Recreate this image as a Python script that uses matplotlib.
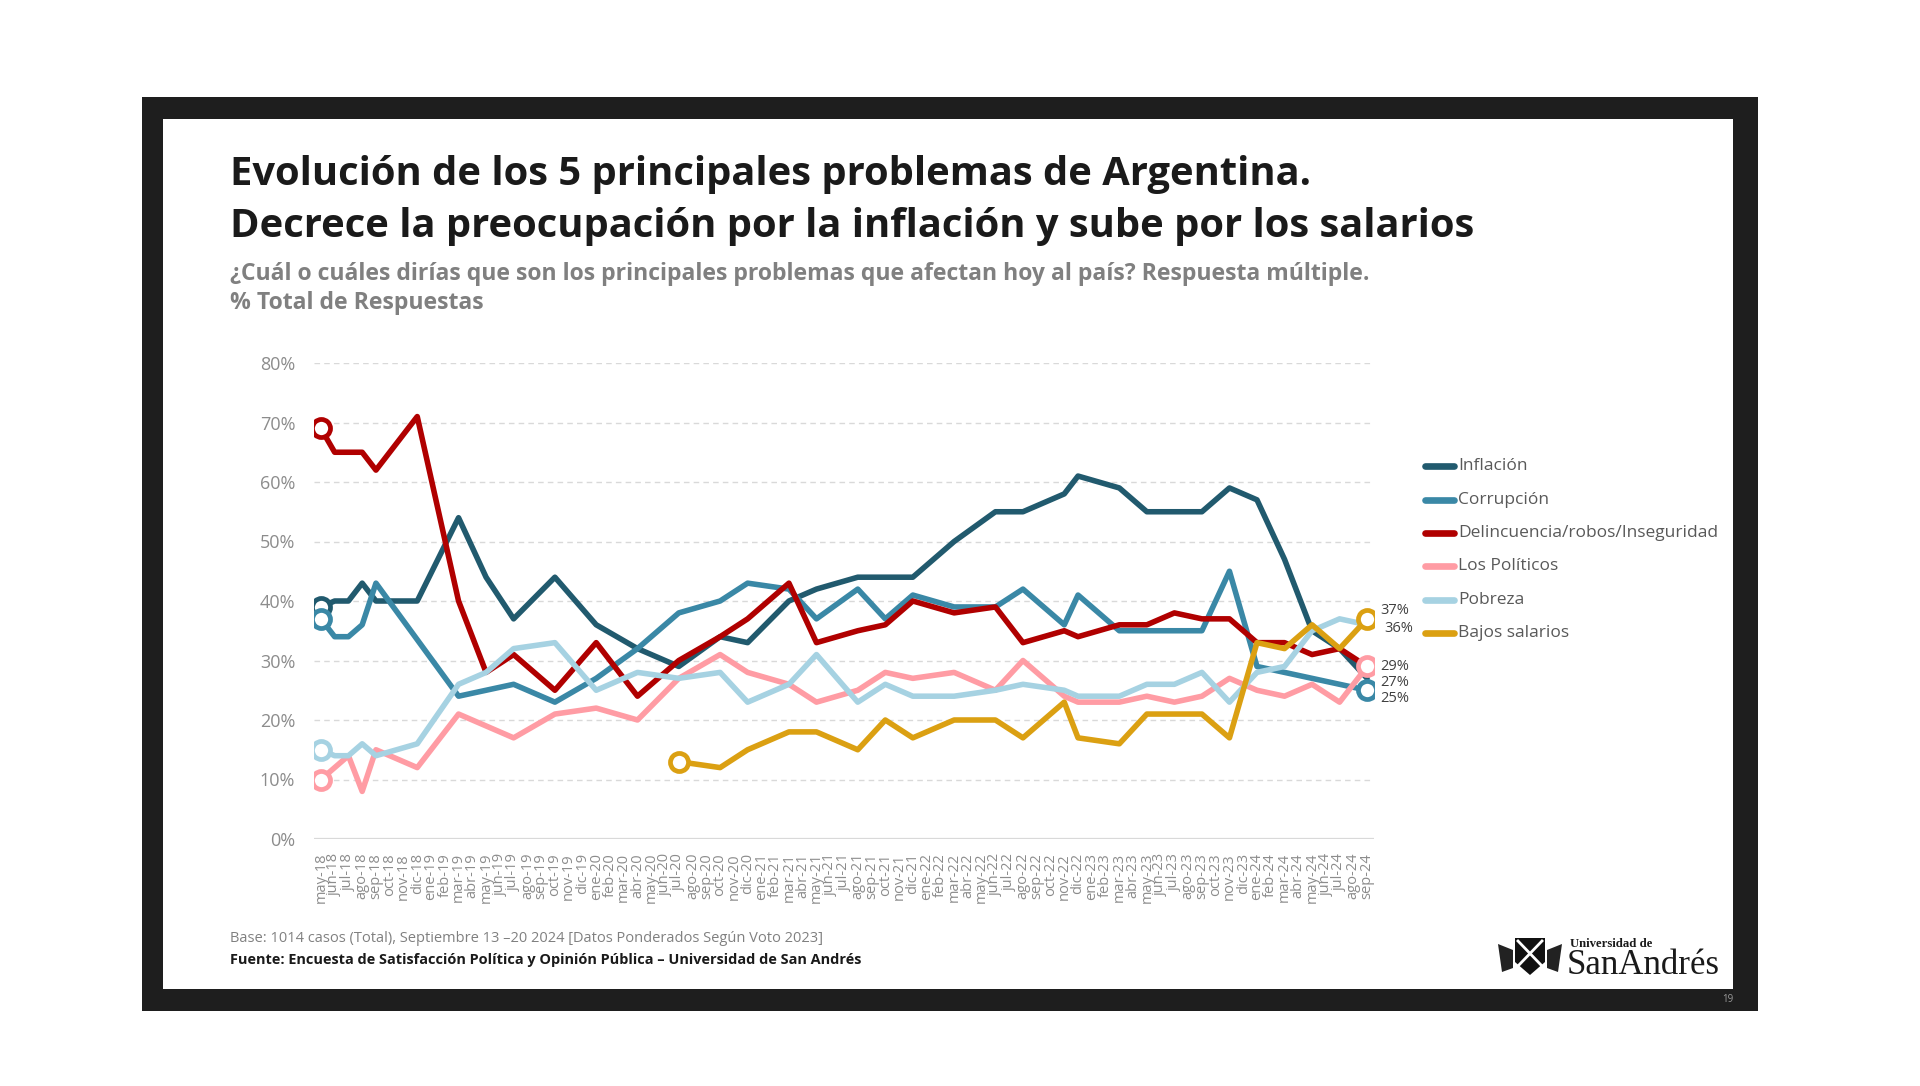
import matplotlib
matplotlib.use("Agg")
import matplotlib.pyplot as plt
from matplotlib.lines import Line2D
from matplotlib.patches import Rectangle, Polygon

plt.rcParams['font.family'] = ['Open Sans', 'DejaVu Sans']

# ---------------- data ----------------
categories = [
    "may-18", "jun-18", "jul-18", "ago-18", "sep-18", "oct-18", "nov-18", "dic-18",
    "ene-19", "feb-19", "mar-19", "abr-19", "may-19", "jun-19", "jul-19", "ago-19", "sep-19", "oct-19", "nov-19", "dic-19",
    "ene-20", "feb-20", "mar-20", "abr-20", "may-20", "jun-20", "jul-20", "ago-20", "sep-20", "oct-20", "nov-20", "dic-20",
    "ene-21", "feb-21", "mar-21", "abr-21", "may-21", "jun-21", "jul-21", "ago-21", "sep-21", "oct-21", "nov-21", "dic-21",
    "ene-22", "feb-22", "mar-22", "abr-22", "may-22", "jun-22", "jul-22", "ago-22", "sep-22", "oct-22", "nov-22", "dic-22",
    "ene-23", "feb-23", "mar-23", "abr-23", "may-23", "jun-23", "jul-23", "ago-23", "sep-23", "oct-23", "nov-23", "dic-23",
    "ene-24", "feb-24", "mar-24", "abr-24", "may-24", "jun-24", "jul-24", "ago-24", "sep-24",
]

survey_months = [
    "may-18", "jun-18", "jul-18", "ago-18", "sep-18", "dic-18", "mar-19", "may-19", "jul-19", "oct-19",
    "ene-20", "abr-20", "jul-20", "oct-20", "dic-20", "mar-21", "may-21", "ago-21", "oct-21", "dic-21",
    "mar-22", "jun-22", "ago-22", "nov-22", "dic-22", "mar-23", "may-23", "jul-23", "sep-23", "nov-23",
    "ene-24", "mar-24", "may-24", "jul-24", "sep-24",
]

inflacion = [39, 40, 40, 43, 40, 40, 54, 44, 37, 44, 36, 32, 29, 34, 33, 40, 42, 44, 44, 44,
             50, 55, 55, 58, 61, 59, 55, 55, 55, 59, 57, 47, 35, 32, 27]
corrupcion = [37, 34, 34, 36, 43, None, 24, None, 26, 23, 27, 32, 38, 40, 43, 42, 37, 42, 37, 41,
              39, 39, 42, 36, 41, 35, 35, 35, 35, 45, 29, 28, 27, 26, 25]
delincuencia = [69, 65, 65, 65, 62, 71, 40, 28, 31, 25, 33, 24, 30, 34, 37, 43, 33, 35, 36, 40,
                38, 39, 33, 35, 34, 36, 36, 38, 37, 37, 33, 33, 31, 32, 29]
politicos = [10, 12, 14, 8, 15, 12, 21, None, 17, 21, 22, 20, 27, 31, 28, 26, 23, 25, 28, 27,
             28, 25, 30, 24, 23, 23, 24, 23, 24, 27, 25, 24, 26, 23, 29]
pobreza = [15, 14, 14, 16, 14, 16, 26, 28, 32, 33, 25, 28, 27, 28, 23, 26, 31, 23, 26, 24,
           24, 25, 26, 25, 24, 24, 26, 26, 28, 23, 28, 29, 35, 37, 36]
bajos_salarios = [None, None, None, None, None, None, None, None, None, None,
                  None, None, 13, 12, 15, 18, 18, 15, 20, 17,
                  20, 20, 17, 23, 17, 16, 21, 21, 21, 17, 33, 32, 36, 32, 37]

series_names = ["Inflación", "Corrupción", "Delincuencia/robos/Inseguridad",
                "Los Políticos", "Pobreza", "Bajos salarios"]
series_values = [inflacion, corrupcion, delincuencia, politicos, pobreza, bajos_salarios]
series_colors = ["#215A6E", "#3A88A6", "#B00000", "#FF9CA4", "#A6D2E2", "#DBA012"]

y_ticks = [0, 10, 20, 30, 40, 50, 60, 70, 80]
y_tick_labels = ["0%", "10%", "20%", "30%", "40%", "50%", "60%", "70%", "80%"]

# ---------------- figure ----------------
W, H = 1920, 1086
fig = plt.figure(figsize=(W / 100, H / 100), dpi=100)
fig.patch.set_facecolor("white")


def fx(x):
    return x / W


def fy(y):
    return 1 - y / H


# slide frame
fig.add_artist(Rectangle((fx(142), fy(1011)), (1758 - 142) / W, (1011 - 97) / H,
                         transform=fig.transFigure, facecolor="#1e1e1e", edgecolor="none", zorder=-10))
fig.add_artist(Rectangle((fx(163), fy(989)), (1733 - 163) / W, (989 - 119) / H,
                         transform=fig.transFigure, facecolor="white", edgecolor="none", zorder=-9))

renderer = fig.canvas.get_renderer()


def fit_text(x, y, s, width_px, size0=20, **kw):
    t = fig.text(fx(x), fy(y), s, fontsize=size0, va="center", ha="left", **kw)
    bb = t.get_window_extent(renderer=renderer)
    t.set_fontsize(size0 * width_px / bb.width)
    return t


t1 = fit_text(230, 175, "Evolución de los 5 principales problemas de Argentina.", 1079,
              fontweight="bold", color="#1a1a1a")
fig.text(fx(230), fy(226), "Decrece la preocupación por la inflación y sube por los salarios",
         fontsize=t1.get_fontsize(), fontweight="bold", color="#1a1a1a", va="center", ha="left")
t3 = fit_text(230, 274, "¿Cuál o cuáles dirías que son los principales problemas que afectan hoy al país? Respuesta múltiple.",
              1140, fontweight="bold", color="#808080")
fig.text(fx(230), fy(303), "% Total de Respuestas", fontsize=t3.get_fontsize(), fontweight="bold",
         color="#808080", va="center", ha="left")

fit_text(230, 938, "Base: 1014 casos (Total), Septiembre 13 –20 2024 [Datos Ponderados Según Voto 2023]",
         591, color="#808080")
fit_text(230, 960, "Fuente: Encuesta de Satisfacción Política y Opinión Pública – Universidad de San Andrés",
         632, fontweight="bold", color="#1a1a1a")

# ---------------- axes ----------------
ax = fig.add_axes([fx(314), fy(839), (1374 - 314) / W, (839 - 363) / H])
ax.set_facecolor("none")
for sp in ax.spines.values():
    sp.set_visible(False)

ax.set_xlim(-0.5, len(categories) - 0.5)
ax.set_ylim(0, 80)
ax.set_yticks(y_ticks)
ax.set_yticklabels(y_tick_labels, fontsize=13, color="#8c8c8c")
ax.set_xticks(range(len(categories)))
ax.set_xticklabels(categories, rotation=90, fontsize=10.5, color="#8c8c8c")
ax.tick_params(axis="x", length=0, pad=10)
ax.tick_params(axis="y", length=0, pad=13.5)
ax.yaxis.grid(True, color="#d9d9d9", linestyle=(0, (4, 3)), linewidth=1.0)
ax.set_axisbelow(True)
ax.axhline(0, color="#d9d9d9", linewidth=1.6, zorder=1)

x_idx = [categories.index(m) for m in survey_months]
ends = {}
for i, (name, vals, col) in enumerate(zip(series_names, series_values, series_colors)):
    pts = [(x, v) for x, v in zip(x_idx, vals) if v is not None]
    xs = [p[0] for p in pts]
    ys = [p[1] for p in pts]
    ax.plot(xs, ys, color=col, lw=4.0, solid_joinstyle="round", solid_capstyle="round", zorder=3 + i)
    ax.plot(xs[0], ys[0], "o", ms=13, mfc="white", mec=col, mew=3.4, zorder=12 + i)
    ends[name] = (xs[-1], ys[-1], col)

for name in ["Corrupción", "Los Políticos", "Bajos salarios"]:
    x, y, col = ends[name]
    ax.plot(x, y, "o", ms=13, mfc="white", mec=col, mew=3.4, zorder=20)

label_offsets = {
    "Bajos salarios": (9.5, 6.0),
    "Pobreza": (12.5, -2.6),
    "Los Políticos": (9.5, 0.0),
    "Inflación": (9.5, -2.9),
    "Corrupción": (9.5, -5.8),
}
for name, (dx, dy) in label_offsets.items():
    x, y, col = ends[name]
    ax.annotate(f"{y}%", xy=(x, y), xytext=(dx, dy), textcoords="offset points",
                va="center", ha="left", fontsize=10.5, color="#404040", zorder=25,
                annotation_clip=False)

# ---------------- legend (drawn manually) ----------------
leg_y0, leg_dy = 466.5, 33.3
leg_texts = []
for i, (name, col) in enumerate(zip(series_names, series_colors)):
    y = leg_y0 + i * leg_dy
    fig.add_artist(Line2D([fx(1425), fx(1454)], [fy(y), fy(y)], transform=fig.transFigure,
                          color=col, lw=4.8, solid_capstyle="round"))
    leg_texts.append(fig.text(fx(1458), fy(y), name, fontsize=12, color="#595959",
                              va="center", ha="left"))
bb = leg_texts[2].get_window_extent(renderer=renderer)
leg_size = 12 * 257 / bb.width
for t in leg_texts:
    t.set_fontsize(leg_size)

# ---------------- logo ----------------
fig.add_artist(Polygon([[fx(1515), fy(938)], [fx(1545), fy(938)], [fx(1545), fy(962)],
                        [fx(1530), fy(975)], [fx(1515), fy(962)]], closed=True,
                       transform=fig.transFigure, facecolor="#111111", edgecolor="none"))
fig.add_artist(Line2D([fx(1518), fx(1542)], [fy(941), fy(966)], transform=fig.transFigure,
                      color="white", lw=2))
fig.add_artist(Line2D([fx(1542), fx(1518)], [fy(941), fy(966)], transform=fig.transFigure,
                      color="white", lw=2))
fig.add_artist(Polygon([[fx(1498), fy(944)], [fx(1513), fy(950)], [fx(1513), fy(968)], [fx(1502), fy(972)]],
                       closed=True, transform=fig.transFigure, facecolor="#222222", edgecolor="none"))
fig.add_artist(Polygon([[fx(1562), fy(944)], [fx(1547), fy(950)], [fx(1547), fy(968)], [fx(1558), fy(972)]],
                       closed=True, transform=fig.transFigure, facecolor="#222222", edgecolor="none"))
fit_text(1570, 944, "Universidad de", 83, family=["Liberation Serif", "DejaVu Serif"],
         fontweight="bold", color="#1a1a1a")
fit_text(1567, 966, "SanAndrés", 153, family=["Liberation Serif", "DejaVu Serif"], color="#1a1a1a")

fig.text(fx(1728), fy(1000), "19", fontsize=7, color="#9a9a9a", va="center", ha="center")

fig.savefig("out.png", dpi=100, facecolor="white")
